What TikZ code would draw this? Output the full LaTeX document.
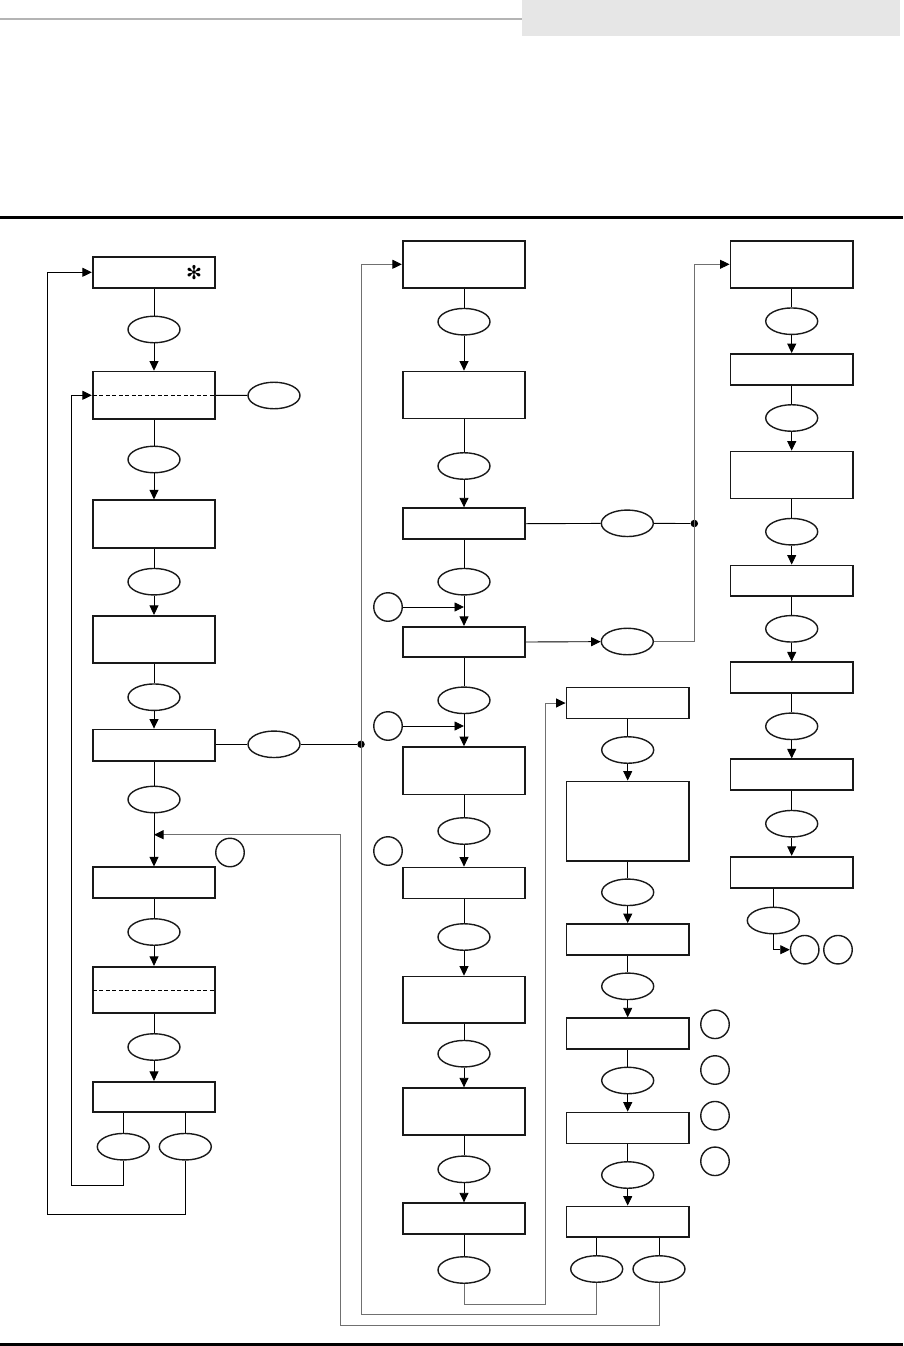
\documentclass[tikz,border=0pt]{standalone}
\usepackage{fontspec}
\newfontfamily\djv{DejaVu Sans}
\usetikzlibrary{arrows.meta,shapes.geometric,calc}
\definecolor{hdrgray}{HTML}{B4B4B4}
\definecolor{hdrfill}{HTML}{E6E6E6}
\definecolor{loopgray}{HTML}{707070}
\tikzset{
  boxst/.style={draw=black!90,line width=1.8pt,rectangle,minimum width=122.5pt,inner sep=0pt,fill=white},
  ellst/.style={draw=black!90,line width=1.4pt,ellipse,minimum width=52pt,minimum height=26.5pt,inner sep=0pt,fill=white},
  circst/.style={draw=black!90,line width=1.4pt,circle,minimum size=28.5pt,inner sep=0pt,fill=white},
  conn/.style={line width=0.9pt,black},
  gconn/.style={line width=0.9pt,loopgray},
  arr/.style={-{Triangle[length=9.5pt,width=9pt,black]}},
  dotst/.style={circle,fill=black,inner sep=0pt,minimum size=7.5pt},
}
\begin{document}
\begin{tikzpicture}[x=1pt,y=-1pt]
\useasboundingbox (0,0) rectangle (903,1346);
% header
\fill[hdrfill] (522,0) rectangle (900,36);
\draw[hdrgray,line width=1.3pt] (0,19) -- (522,19);
\draw[black,line width=3.5pt] (0,217.5) -- (903,217.5);
\draw[black,line width=3.5pt] (0,1344.3) -- (903,1344.3);

% ---------- column 1 ----------
\node[boxst,minimum height=31pt] (b1) at (154,272.3) {};
\node[font=\djv\fontsize{19}{19}\selectfont,inner sep=0pt] (star) at (194,273) {✻};
\node[ellst] (e1) at (154,329.5) {};
\node[boxst,minimum height=47.5pt] (b2) at (154,395.3) {};
\node[ellst] (e2r) at (274,395.5) {};
\node[ellst] (e2) at (154,459.5) {};
\node[boxst,minimum height=47.5pt] (b3) at (154,524) {};
\node[ellst] (e3) at (154,581.7) {};
\node[boxst,minimum height=47pt] (b4) at (154,639.3) {};
\node[ellst] (e4) at (154,697.2) {};
\node[boxst,minimum height=31.5pt] (b5) at (154,745.2) {};
\node[ellst] (e5r) at (274,744.3) {};
\node[ellst] (e5) at (154,799.5) {};
\coordinate (jn1) at (154,834.7);
\node[circst] (c1) at (230,852.5) {};
\node[boxst,minimum height=31pt] (b6) at (154,882.8) {};
\node[ellst] (e6) at (154,932) {};
\node[boxst,minimum height=46.5pt] (b7) at (154,990) {};
\node[ellst] (e7) at (154,1047) {};
\node[boxst,minimum height=30.5pt] (b8) at (154,1097) {};
\node[ellst] (e8a) at (123.3,1146.7) {};
\node[ellst] (e8b) at (185.3,1146.7) {};
\coordinate (l1) at (71,1185);
\coordinate (l2) at (47,1214);

% ---------- column 2 ----------
\node[boxst,minimum height=47pt] (f1) at (464,264.3) {};
\node[ellst] (g1) at (464,321.7) {};
\node[boxst,minimum height=47pt] (f2) at (464,395) {};
\node[ellst] (g2) at (464,466) {};
\node[boxst,minimum height=31pt] (f3) at (464,523.7) {};
\node[ellst] (g3r) at (627.3,523.3) {};
\node[ellst] (g3) at (464,581.7) {};
\node[circst] (d1) at (388,607) {};
\node[boxst,minimum height=30.5pt] (f4) at (464,642) {};
\node[ellst] (g4r) at (627.3,641.5) {};
\node[ellst] (g4) at (464,700.3) {};
\node[circst] (d2) at (388,726) {};
\node[boxst,minimum height=47.5pt] (f5) at (464,770.8) {};
\node[ellst] (g5) at (464,831) {};
\node[circst] (d3) at (388,851) {};
\node[boxst,minimum height=31pt] (f6) at (464,883) {};
\node[ellst] (g6) at (464,937) {};
\node[boxst,minimum height=46.5pt] (f7) at (464,999.8) {};
\node[ellst] (g7) at (464,1053.7) {};
\node[boxst,minimum height=47pt] (f8) at (464,1111.7) {};
\node[ellst] (g8) at (464,1169.3) {};
\node[boxst,minimum height=31pt] (f9) at (464,1218.7) {};
\node[ellst] (g9) at (464,1270) {};
\coordinate (q1) at (340.7,1325.7);
\coordinate (q2) at (361,1314.7);
\coordinate (q4) at (545.7,1304);
\node[dotst] (j1) at (361,744.3) {};

% ---------- column 3 ----------
\node[boxst,minimum height=31pt] (h1) at (627.7,703) {};
\node[ellst] (k1) at (627.7,750) {};
\node[boxst,minimum height=79.5pt] (h2) at (627.7,821.2) {};
\node[ellst] (k2) at (627.7,892.3) {};
\node[boxst,minimum height=31pt] (h3) at (627.7,939.5) {};
\node[ellst] (k3) at (627.7,986.3) {};
\node[boxst,minimum height=31pt] (h4) at (627.7,1033.7) {};
\node[ellst] (k4) at (627.7,1080.5) {};
\node[boxst,minimum height=31pt] (h5) at (627.7,1128) {};
\node[ellst] (k5) at (627.7,1175) {};
\node[boxst,minimum height=30.5pt] (h6) at (627.7,1221.7) {};
\node[ellst] (k6a) at (596.7,1269) {};
\node[ellst] (k6b) at (659,1269) {};
\node[circst] (r1) at (715,1024.3) {};
\node[circst] (r2) at (715,1070) {};
\node[circst] (r3) at (715,1115.7) {};
\node[circst] (r4) at (715,1161.3) {};

% ---------- column 4 ----------
\node[boxst,minimum height=47pt] (m1) at (791.7,264.3) {};
\node[ellst] (n1) at (791.7,321.2) {};
\node[boxst,minimum height=31pt] (m2) at (791.7,369.5) {};
\node[ellst] (n2) at (791.7,418) {};
\node[boxst,minimum height=47pt] (m3) at (791.7,475) {};
\node[ellst] (n3) at (791.7,531.7) {};
\node[boxst,minimum height=30.5pt] (m4) at (791.7,580.7) {};
\node[ellst] (n4) at (791.7,628.8) {};
\node[boxst,minimum height=31pt] (m5) at (791.7,677.8) {};
\node[ellst] (n5) at (791.7,726.3) {};
\node[boxst,minimum height=31pt] (m6) at (791.7,774.8) {};
\node[ellst] (n6) at (791.7,823.7) {};
\node[boxst,minimum height=31pt] (m7) at (791.7,872.2) {};
\node[ellst] (n7) at (773.3,920.5) {};
\node[circst] (p1) at (804.7,949.7) {};
\node[circst] (p2) at (838,949.7) {};
\coordinate (q3) at (694.3,264.3);
\node[dotst] (j2) at (694.3,523.5) {};

% column 1
\draw[conn] (b1) -- (e1);
\draw[conn,arr] (e1) -- (b2);
\draw[conn,dash pattern=on 4pt off 2.5pt] ([xshift=1pt]b2.west) -- ([xshift=-1pt]b2.east);
\draw[conn] (b2.east) -- (e2r);
\draw[conn] (b2) -- (e2);
\draw[conn,arr] (e2) -- (b3);
\draw[conn] (b3) -- (e3);
\draw[conn,arr] (e3) -- (b4);
\draw[conn] (b4) -- (e4);
\draw[conn,arr] (e4) -- (b5);
\draw[conn] (b5.east |- e5r) -- (e5r);
\draw[conn] (e5r) -- (j1);
\draw[conn] (b5) -- (e5);
\draw[conn,arr] (e5) -- (b6);
\draw[conn] (b6) -- (e6);
\draw[conn,arr] (e6) -- (b7);
\draw[conn,dash pattern=on 4pt off 2.5pt] ([xshift=1pt]b7.west) -- ([xshift=-1pt]b7.east);
\draw[conn] (b7) -- (e7);
\draw[conn,arr] (e7) -- (b8);
\draw[conn] (b8.south -| e8a) -- (e8a);
\draw[conn] (b8.south -| e8b) -- (e8b);
\draw[conn,arr] (e8a.south) |- (l1) |- (b2.west);
\draw[conn,arr] (e8b.south) |- (l2) |- (b1.west);

% column 2
\draw[conn] (f1) -- (g1);
\draw[conn,arr] (g1) -- (f2);
\draw[conn] (f2) -- (g2);
\draw[conn,arr] (g2) -- (f3);
\draw[conn] (f3.east) -- (g3r);
\draw[conn] (g3r) -- (j2);
\draw[conn] (f3) -- (g3);
\draw[conn,arr] (g3) -- (f4);
\draw[conn,arr] (d1) -- (f4.north |- d1);
\draw[conn,arr] (f4.east) -- (g4r);
\draw[gconn,arr] (g4r.east) -| (q3) -- (m1.west);
\draw[conn] (f4) -- (g4);
\draw[conn,arr] (g4) -- (f5);
\draw[conn,arr] (d2) -- (f5.north |- d2);
\draw[conn] (f5) -- (g5);
\draw[conn,arr] (g5) -- (f6);
\draw[conn] (f6) -- (g6);
\draw[conn,arr] (g6) -- (f7);
\draw[conn] (f7) -- (g7);
\draw[conn,arr] (g7) -- (f8);
\draw[conn] (f8) -- (g8);
\draw[conn,arr] (g8) -- (f9);
\draw[conn] (f9) -- (g9);
\draw[gconn,arr] (g9.south) |- (q4) |- (h1.west);
\draw[gconn,arr] (k6a.south) |- (q2) |- (f1.west);
\draw[gconn,arr] (k6b.south) |- (q1) |- (jn1);

% column 3
\draw[conn] (h1) -- (k1);
\draw[conn,arr] (k1) -- (h2);
\draw[conn] (h2) -- (k2);
\draw[conn,arr] (k2) -- (h3);
\draw[conn] (h3) -- (k3);
\draw[conn,arr] (k3) -- (h4);
\draw[conn] (h4) -- (k4);
\draw[conn,arr] (k4) -- (h5);
\draw[conn] (h5) -- (k5);
\draw[conn,arr] (k5) -- (h6);
\draw[conn] (h6.south -| k6a) -- (k6a);
\draw[conn] (h6.south -| k6b) -- (k6b);

% column 4
\draw[conn] (m1) -- (n1);
\draw[conn,arr] (n1) -- (m2);
\draw[conn] (m2) -- (n2);
\draw[conn,arr] (n2) -- (m3);
\draw[conn] (m3) -- (n3);
\draw[conn,arr] (n3) -- (m4);
\draw[conn] (m4) -- (n4);
\draw[conn,arr] (n4) -- (m5);
\draw[conn] (m5) -- (n5);
\draw[conn,arr] (n5) -- (m6);
\draw[conn] (m6) -- (n6);
\draw[conn,arr] (n6) -- (m7);
\draw[conn] (m7.south -| n7) -- (n7);
\draw[conn,arr] (n7.south) |- (p1.west);
\end{tikzpicture}
\end{document}
